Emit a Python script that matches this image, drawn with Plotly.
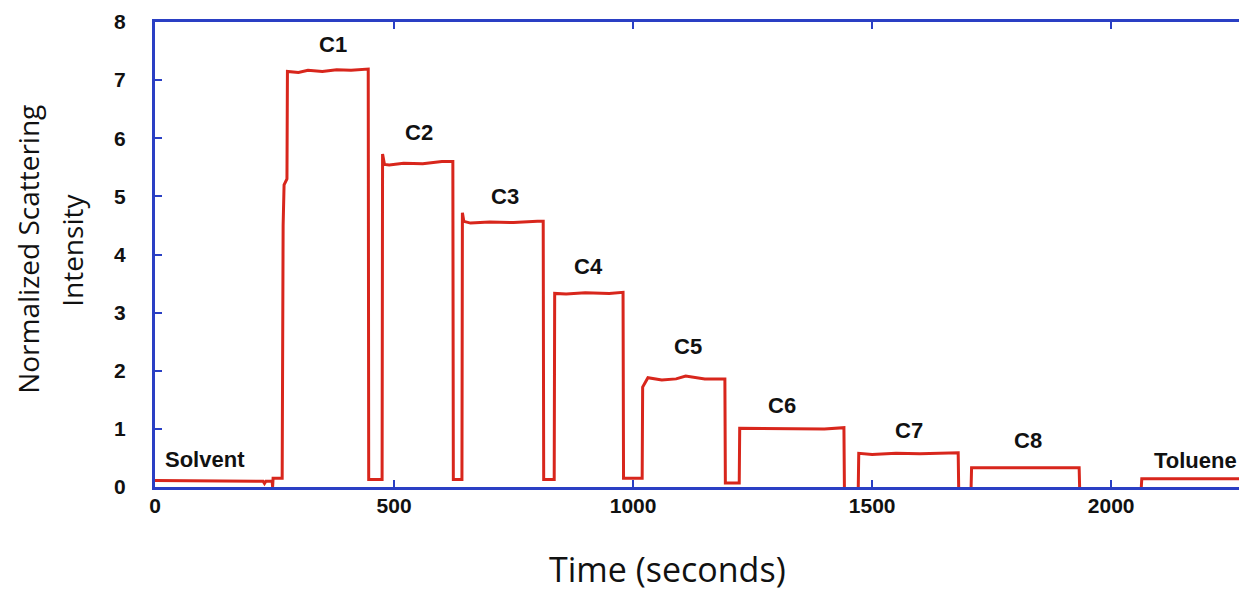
import plotly.graph_objects as go

# Time (s) and normalized scattering intensity (None = trace hidden on the axis)
time_s = [0, 60, 120, 180, 226, 229, 232, 245, 246, 247, 266, 268, 270, 276, 277,
          300, 320, 350, 380, 410, 446, 447, 475, 476, 480, 490, 520, 560, 600, 623, 624,
          642, 643, 646, 660, 700, 750, 800, 812, 813, 835, 836, 860, 900, 950, 979, 980,
          1019, 1020, 1031, 1060, 1090, 1110, 1150, 1192, 1193, 1222, 1223, 1260, 1300,
          1350, 1400, 1441, 1442, 1456, 1471, 1472, 1500, 1550, 1600, 1650, 1680, 1681, 1694, 1707,
          1708, 1800, 1933, 1934, 2000, 2063, 2064, 2150, 2290]
intensity = [0.11, 0.11, 0.11, 0.10, 0.10, 0.06, 0.10, 0.10, 0.0, 0.15, 0.15, 4.5, 5.2, 5.3, 7.15,
             7.13, 7.17, 7.15, 7.18, 7.17, 7.19, 0.13, 0.13, 5.73, 5.55, 5.54, 5.57, 5.56, 5.60, 5.60, 0.13,
             0.13, 4.72, 4.57, 4.54, 4.56, 4.55, 4.57, 4.57, 0.13, 0.13, 3.33, 3.32, 3.34, 3.33, 3.35, 0.15,
             0.15, 1.72, 1.88, 1.84, 1.86, 1.91, 1.86, 1.86, 0.07, 0.07, 1.01, 1.01, 1.00,
             1.01, 1.00, 1.02, 0.0, None, 0.0, 0.58, 0.56, 0.58, 0.57, 0.58, 0.59, 0.0, None, 0.0,
             0.33, 0.33, 0.33, 0.0, None, 0.0, 0.14, 0.14, 0.14]

labels = ["Solvent", "C1", "C2", "C3", "C4", "C5", "C6", "C7", "C8", "Toluene"]
label_x = [105, 372, 552, 732, 906, 1115, 1312, 1577, 1826, 2176]
label_y = [0.48, 7.62, 6.10, 5.00, 3.80, 2.41, 1.41, 0.98, 0.80, 0.45]

x_ticks = [0, 500, 1000, 1500, 2000]
y_ticks = [0, 1, 2, 3, 4, 5, 6, 7, 8]

x_title = "Time (seconds)"
y_title_lines = ["Normalized Scattering", "Intensity"]

RED = "#d8261c"
BLUE = "#2a3fc4"
TXT = "#111111"

fig = go.Figure()
fig.add_trace(go.Scatter(x=time_s, y=intensity, mode="lines", connectgaps=False,
                         line=dict(color=RED, width=3), showlegend=False,
                         hoverinfo="skip"))

for t, xv, yv in zip(labels, label_x, label_y):
    fig.add_annotation(x=xv, y=yv, text=t, showarrow=False,
                       font=dict(family="Liberation Sans", size=22, color=TXT,
                                 weight="bold"))

# axis titles (placed as paper-anchored text, as in the original they sit off-centre)
fig.add_annotation(xref="paper", yref="paper", x=0.470, y=-0.176, text=x_title,
                   showarrow=False, xanchor="center", yanchor="middle",
                   font=dict(family="Open Sans", size=34, color=TXT))
for txt, px in zip(y_title_lines, [-0.1164, -0.0761]):
    fig.add_annotation(xref="paper", yref="paper", x=px, y=0.51, text=txt,
                       showarrow=False, textangle=-90, xanchor="center", yanchor="middle",
                       font=dict(family="Open Sans", size=28, color=TXT))

fig.update_xaxes(range=[0, 2282], tickvals=x_ticks, ticks="inside", ticklen=7,
                 tickwidth=2, tickcolor=BLUE, showline=True, linecolor=BLUE, linewidth=3,
                 mirror="ticks", showgrid=False, zeroline=False, layer="above traces",
                 automargin=False, ticklabelstandoff=-2,
                 tickfont=dict(family="Liberation Sans", size=21, color=TXT, weight="bold"))
fig.update_yaxes(range=[0, 8], tickvals=y_ticks, ticks="inside", ticklen=7,
                 tickwidth=2, tickcolor=BLUE, showline=True, linecolor=BLUE, linewidth=3,
                 mirror="ticks", showgrid=False, zeroline=False, layer="above traces",
                 automargin=False, ticklabelstandoff=22,
                 tickfont=dict(family="Liberation Sans", size=21, color=TXT, weight="bold"))

fig.update_layout(width=1239, height=584, plot_bgcolor="white", paper_bgcolor="white",
                  margin=dict(l=147, r=1, t=14, b=105))

fig.write_html("out.html")
